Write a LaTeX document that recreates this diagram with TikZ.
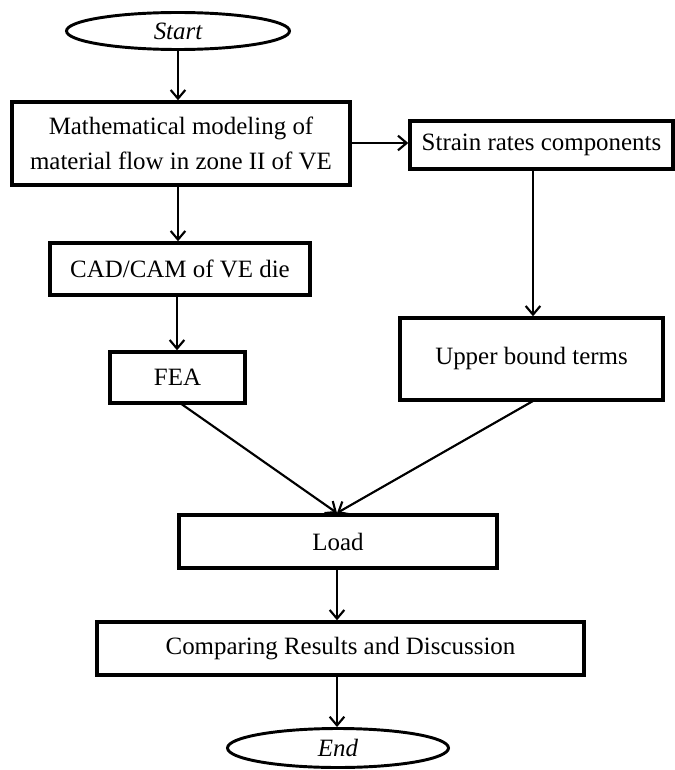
\documentclass[tikz,border=0pt]{standalone}
\usepackage{fontspec}
\setmainfont{Liberation Serif}
\usetikzlibrary{shapes.geometric,arrows.meta}
\tikzset{
    box/.style={draw, line width=2.6pt, inner sep=0pt, align=center, font=\fontsize{18.7}{26}\selectfont},
    term/.style={draw, ellipse, line width=2.2pt, inner sep=0pt, font=\fontsize{18.7}{26}\selectfont\itshape},
    arrow/.style={line width=1.6pt, -{Straight Barb[length=6.5pt,width=11pt,line width=1.6pt]}}
}
\begin{document}
\begin{tikzpicture}[x=0.75pt, y=-0.75pt]
    \useasboundingbox (0,0) rectangle (674,770);
    \node [term, minimum width=223*0.75pt, minimum height=37*0.75pt] (start) at (178, 31) {Start};
    \node [box, minimum width=338*0.75pt, minimum height=83*0.75pt] (model) at (181, 143.5) {Mathematical modeling of\\material flow in zone II of VE};
    \node [box, minimum width=263*0.75pt, minimum height=48*0.75pt] (strain) at (541.5, 145) {Strain rates components};
    \node [box, minimum width=260*0.75pt, minimum height=52*0.75pt] (cad) at (180, 269) {CAD/CAM of VE die};
    \node [box, minimum width=135*0.75pt, minimum height=51*0.75pt] (fea) at (177.5, 377.5) {FEA};
    \node [box, minimum width=263*0.75pt, minimum height=82*0.75pt] (upper) at (531.5, 359) {Upper bound terms};
    \node [box, minimum width=318*0.75pt, minimum height=53*0.75pt] (load) at (338, 541.5) {Load};
    \node [box, minimum width=487*0.75pt, minimum height=53*0.75pt] (compare) at (340.5, 648.5) {Comparing Results and Discussion};
    \node [term, minimum width=221*0.75pt, minimum height=39*0.75pt] (end) at (338, 748) {End};
    % connectors
    \coordinate (loadin) at (337, 513);
    \draw [arrow] (start.south) -- (start.south |- model.north);
    \draw [arrow] (model.east |- strain.west) ++(0,-2) coordinate (modelout) (modelout) -- (strain.west |- modelout);
    \draw [arrow] (178, 185) coordinate (modeldown) (modeldown) -- (modeldown |- cad.north);
    \draw [arrow] (177, 295) coordinate (caddown) (caddown) -- (caddown |- fea.north);
    \draw [arrow] (533, 169) coordinate (straindown) (straindown) -- (straindown |- upper.north);
    \draw [arrow] (180, 403) coordinate (feaout) (feaout) -- (loadin);
    \draw [arrow] (533, 401) coordinate (upperout) (upperout) -- (loadin);
    \draw [arrow] (337, 568) coordinate (loaddown) (loaddown) -- (loaddown |- compare.north);
    \draw [arrow] (337, 675) coordinate (comparedown) (comparedown) -- (comparedown |- end.north);
\end{tikzpicture}
\end{document}
